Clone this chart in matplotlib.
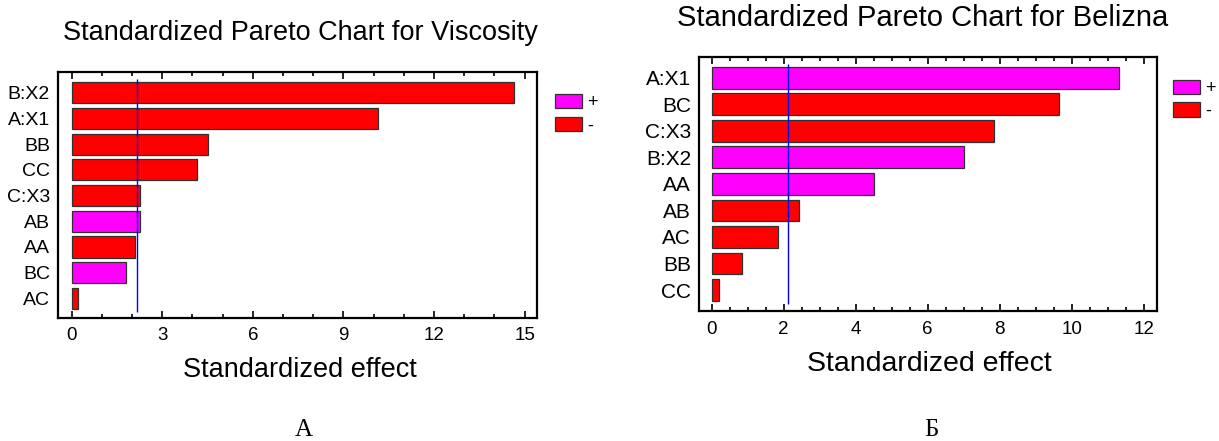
import matplotlib
matplotlib.use('Agg')
import matplotlib.pyplot as plt
from matplotlib.patches import Patch
from matplotlib.ticker import MultipleLocator

plt.rcParams['font.family'] = ['Liberation Sans', 'DejaVu Sans']

# Viscosity (A)
visc_terms = ['B:X2', 'A:X1', 'BB', 'CC', 'C:X3', 'AB', 'AA', 'BC', 'AC']
visc_effects = [14.65, 10.16, 4.53, 4.15, 2.26, 2.26, 2.10, 1.79, 0.20]
visc_signs = ['-', '-', '-', '-', '-', '+', '-', '+', '-']
visc_crit = 2.15

# Belizna (Б)
bel_terms = ['A:X1', 'BC', 'C:X3', 'B:X2', 'AA', 'AB', 'AC', 'BB', 'CC']
bel_effects = [11.31, 9.65, 7.83, 7.02, 4.52, 2.44, 1.83, 0.83, 0.20]
bel_signs = ['+', '-', '-', '+', '+', '-', '-', '-', '-']
bel_crit = 2.13

sign_colors = {'+': '#FF00FF', '-': '#FF0000'}

W, H = 1219, 441
fig = plt.figure(figsize=(W / 100, H / 100), dpi=100)


def pareto(rect, terms, effects, signs, crit, xlim, ylim, major, minor,
           title, title_xy, title_size, label_xy, label_size, lab_size,
           leg_xy, letter_xy):
	ax = fig.add_axes(rect)
	ypos = list(range(len(terms)))
	colors = [sign_colors[s] for s in signs]
	ax.barh(ypos, effects, height=0.82, color=colors, edgecolor='#303030', linewidth=0.9)
	# critical value line
	ax.vlines(crit, -0.53, len(terms) - 0.47, color='#0000FF', linewidth=1.0)
	ax.set_xlim(*xlim)
	ax.set_ylim(*ylim)
	ax.set_yticks(ypos)
	ax.set_yticklabels(terms, fontsize=lab_size)
	ax.tick_params(axis='y', length=0, pad=6)
	ax.xaxis.set_major_locator(MultipleLocator(major))
	ax.xaxis.set_minor_locator(MultipleLocator(minor))
	ax.tick_params(axis='x', which='both', direction='in', top=True, labelsize=13.5, pad=7)
	ax.tick_params(axis='x', which='major', length=5, width=1.2)
	ax.tick_params(axis='x', which='minor', length=3, width=1.2)
	for sp in ax.spines.values():
		sp.set_linewidth(1.6)
	fig.text(title_xy[0] / W, 1 - title_xy[1] / H, title, fontsize=title_size,
		ha='center', va='center')
	fig.text(label_xy[0] / W, 1 - label_xy[1] / H, 'Standardized effect', fontsize=label_size,
		ha='center', va='center')
	fig.text(letter_xy[0] / W, 1 - letter_xy[1] / H, letter_xy[2], fontsize=18,
		family=['Liberation Serif', 'DejaVu Serif'], ha='center', va='center')
	handles = [Patch(facecolor=sign_colors[s], edgecolor='#303030', linewidth=0.9) for s in ['+', '-']]
	fig.legend(handles, ['+', '-'], loc='upper left',
		bbox_to_anchor=(leg_xy[0] / W, 1 - leg_xy[1] / H), frameon=False, fontsize=13,
		handlelength=1.5, handleheight=0.85, handletextpad=0.3, labelspacing=0.3,
		borderpad=0, borderaxespad=0)
	return ax


pareto([58.4 / W, 1 - 317.7 / H, (537 - 58.4) / W, (317.7 - 72.3) / H],
	visc_terms, visc_effects, visc_signs, visc_crit,
	(-0.44, 15.41), (8.75, -0.79), 3, 1,
	'Standardized Pareto Chart for Viscosity', (300.6, 33), 19.5,
	(299.6, 370), 19.5, 14, (554.5, 94), (303.5, 430, 'А'))

pareto([699.4 / W, 1 - 311 / H, (1157 - 699.4) / W, (311 - 57.3) / H],
	bel_terms, bel_effects, bel_signs, bel_crit,
	(-0.34, 12.37), (8.79, -0.77), 2, 0.5,
	'Standardized Pareto Chart for Belizna', (923, 18.3), 21,
	(929.5, 364), 20.5, 15, (1173, 79.5), (931, 430, 'Б'))

fig.savefig('out.png', dpi=100)
